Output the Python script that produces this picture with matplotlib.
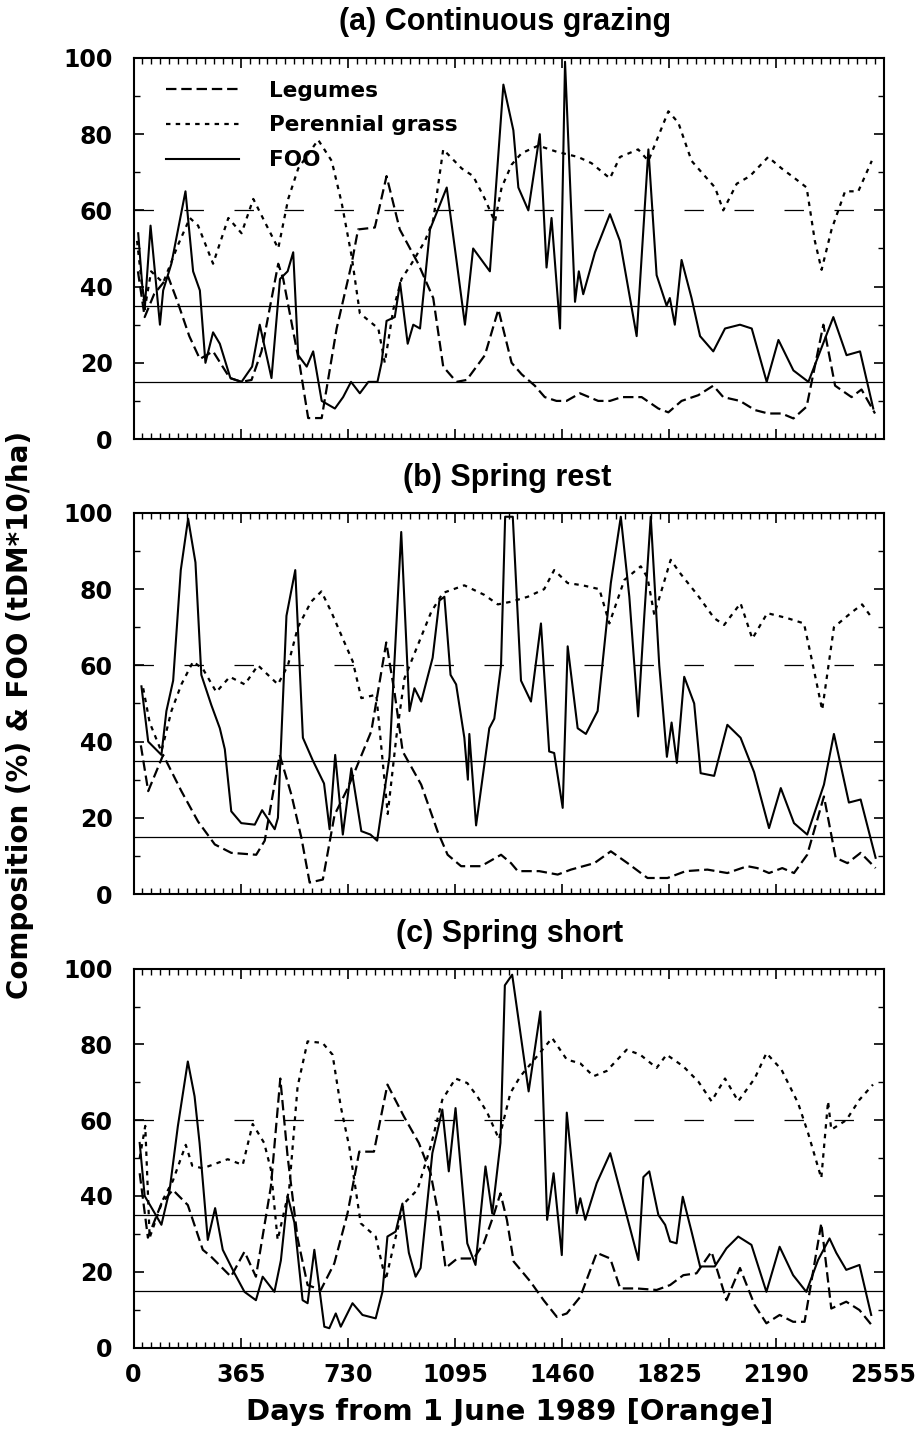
import numpy as np
import matplotlib
matplotlib.use('Agg')
from matplotlib import pyplot as plt
from matplotlib.ticker import MultipleLocator

plt.rcParams['font.family'] = ['DejaVu Sans']
plt.rcParams['font.weight'] = 'bold'
plt.rcParams['lines.scale_dashes'] = False

# ---- (a) Continuous grazing ----
a_foo_day = [16, 30, 39, 58, 90, 101, 129, 177, 203, 226, 245, 271, 294, 330, 368, 404, 430, 470, 499, 525,
             544, 561, 590, 612, 641, 686, 714, 741, 771, 800, 831, 845, 862, 890, 908, 934, 953, 976, 1010, 1067,
             1100, 1129, 1157, 1214, 1260, 1294, 1311, 1345, 1384, 1407, 1424, 1453, 1470, 1504, 1517, 1532, 1572,
             1623, 1657, 1714, 1754, 1782, 1816, 1827, 1844, 1867, 1901, 1930, 1975, 2015, 2066, 2106, 2157, 2197,
             2248, 2299, 2384, 2429, 2475, 2520]
a_foo = [54, 40, 35, 56, 30, 39, 46, 65, 44, 39, 20, 28, 25, 16, 15, 19, 30, 16, 42, 44,
         49, 22, 19, 23, 10, 8, 11, 15, 12, 15, 15, 20, 31, 32, 41, 25, 30, 29, 55, 66,
         47, 30, 50, 44, 93, 81, 66, 60, 80, 45, 58, 29, 99, 36, 44, 38, 49,
         59, 52, 27, 76, 43, 35, 37, 30, 47, 37, 27, 23, 29, 30, 29, 15, 26,
         18, 15, 32, 22, 23, 8]
a_leg_day = [15, 38, 70, 118, 150, 190, 226, 271, 328, 368, 402, 436, 493, 510, 567, 595, 641, 692, 743, 765,
             822, 862, 907, 970, 1021, 1055, 1100, 1135, 1197, 1243, 1288, 1322, 1367, 1401, 1441, 1475, 1521,
             1583, 1623, 1663, 1731, 1788, 1822, 1867, 1924, 1975, 2009, 2066, 2117, 2162, 2208, 2248, 2293,
             2350, 2390, 2446, 2480, 2526]
a_leg = [44, 32, 38, 42.6, 36, 27, 21, 23, 16, 15, 15.5, 23, 46, 42, 19, 5.5, 5.5, 29, 46, 55,
         55.5, 69, 55, 46, 37, 19, 15, 15.5, 22, 34, 20, 17, 14, 11, 10, 10, 12,
         10, 10, 11, 11, 8, 7, 10, 11.5, 14, 11, 10, 7.6, 6.7, 6.7, 5.4, 8.5,
         30, 14, 11, 13, 6.7]
a_gr_day = [12, 38, 60, 101, 152, 192, 220, 271, 323, 368, 408, 447, 493, 527, 561, 629, 675, 709, 743, 771,
            834, 856, 885, 913, 947, 993, 1021, 1055, 1118, 1157, 1197, 1231, 1254, 1288, 1322, 1379, 1441,
            1515, 1560, 1623, 1657, 1719, 1754, 1822, 1856, 1901, 1935, 1981, 2009, 2055, 2100, 2162, 2208,
            2253, 2293, 2321, 2344, 2378, 2424, 2469, 2515]
a_gr = [52, 34, 44, 41, 51, 58, 56, 46, 58, 54, 63, 57, 50, 63, 71, 78.5, 73, 62, 48, 33,
        29, 20, 34, 42, 46, 52, 57.5, 76, 71, 69, 63, 57, 66, 72, 75, 77, 75.4,
        74, 72.4, 68.4, 74, 76, 73, 86, 83, 73, 70, 66, 60, 67, 69, 74, 71,
        68.4, 66, 52, 44.4, 55, 65, 65, 73]

# ---- (b) Spring rest ----
b_foo_day = [27, 50, 95, 112, 135, 161, 186, 211, 231, 265, 294, 311, 333, 367, 413, 438, 481, 492, 521, 551,
             577, 611, 649, 668, 687, 713, 742, 776, 807, 830, 872, 912, 940, 957, 980, 1019, 1042, 1059, 1080,
             1099, 1127, 1139, 1144, 1167, 1212, 1229, 1252, 1266, 1292, 1320, 1354, 1388, 1416, 1433, 1462,
             1479, 1513, 1541, 1581, 1626, 1660, 1689, 1719, 1740, 1762, 1791, 1817, 1833, 1851, 1876, 1910,
             1932, 1978, 2023, 2068, 2114, 2165, 2205, 2250, 2295, 2352, 2386, 2437, 2477, 2528]
b_foo = [54.5, 40, 36.5, 48, 56, 85, 98.5, 87, 57.5, 49.6, 43.5, 38, 21.7, 18.6, 18.2, 22, 17, 20, 73, 85,
         41, 35, 29, 17, 36.5, 15.6, 33, 16.5, 15.6, 14, 36, 95, 48, 54, 50.5, 62, 77, 78, 57.5,
         55, 41, 30, 42, 18, 43.5, 46, 60, 99, 99, 56, 50.5, 71, 37.4, 37, 22.6,
         65, 43.5, 42, 48, 81.6, 99, 78, 46.6, 73, 99, 60, 36, 45, 34.4, 57, 50,
         31.7, 31, 44.4, 41, 32, 17.3, 27.8, 18.6, 15.6, 28.7, 42, 24, 24.8, 9.5]
b_leg_day = [25, 50, 101, 163, 220, 277, 333, 418, 447, 498, 538, 572, 600, 645, 685, 725, 753, 810, 861, 889,
             917, 980, 1036, 1070, 1116, 1184, 1252, 1286, 1309, 1382, 1445, 1490, 1570, 1626, 1683, 1751,
             1819, 1881, 1955, 2023, 2091, 2125, 2165, 2210, 2250, 2295, 2352, 2392, 2432, 2477, 2528]
b_leg = [39, 27, 36.5, 27, 19, 13, 10.8, 10.3, 14, 36.5, 26, 14.7, 3, 3.8, 20.8, 27, 32, 42.7, 66, 53,
         37.4, 28.7, 16.4, 10.3, 7.3, 7.3, 10.3, 8.1, 6, 6, 5.1, 6.4, 8.1, 11.2, 8.1, 4.2,
         4.2, 6, 6.4, 5.5, 7.3, 6.8, 5.5, 6.8, 5.5, 10.3, 25.6, 9.5, 8.1, 10.8, 6.8]
b_gr_day = [33, 55, 95, 129, 163, 203, 237, 282, 328, 379, 424, 492, 526, 560, 605, 640, 674, 713, 747, 776,
            827, 866, 895, 923, 969, 1014, 1054, 1127, 1195, 1241, 1286, 1343, 1399, 1433, 1479, 1530, 1587,
            1621, 1672, 1728, 1751, 1774, 1830, 1864, 1921, 1978, 2012, 2068, 2108, 2159, 2227, 2284, 2312,
            2346, 2386, 2443, 2482, 2516]
b_gr = [54, 45, 37.4, 48, 55, 61, 59, 53, 57, 55, 60, 55, 60, 70, 76.7, 79.4, 74, 67, 61, 51.4,
        52.3, 21, 41, 56.6, 65.4, 74, 79, 81, 78.5, 76, 76.7, 78, 80, 85, 81.6, 81, 80,
        71, 82.4, 86, 83, 73.3, 87.7, 84, 78.5, 72.4, 70.6, 76.3, 67, 73.7, 72.4, 71, 61,
        48.3, 70, 73.7, 76, 72.4]

# ---- (c) Spring short ----
c_foo_day = [21, 38, 66, 95, 123, 151, 185, 208, 225, 253, 278, 304, 344, 378, 417, 440, 480, 502, 525, 548,
             576, 593, 616, 650, 667, 689, 706, 746, 780, 825, 848, 865, 893, 916, 938, 961, 978, 1018, 1052,
             1074, 1097, 1137, 1165, 1199, 1222, 1250, 1265, 1290, 1346, 1386, 1409, 1431, 1459, 1476, 1510,
             1522, 1539, 1578, 1624, 1720, 1737, 1757, 1788, 1811, 1828, 1850, 1871, 1901, 1930, 1980, 2020,
             2060, 2105, 2156, 2201, 2247, 2292, 2332, 2371, 2394, 2428, 2473, 2513]
c_foo = [54, 40, 36.3, 32.4, 41.6, 58.4, 75.5, 66.3, 54, 28.4, 36.8, 25.8, 19.6, 14.7, 12.5, 18.7, 14.7, 23, 40, 33,
         12.5, 11.7, 25.8, 5.5, 5.1, 9, 5.5, 11.7, 8.6, 7.7, 14.7, 29.3, 30.6, 38, 25, 18.7, 21, 51.3, 62.8,
         46.5, 63.2, 27.5, 21.8, 47.8, 35.4, 54, 95.6, 98.4, 67.6, 88.7, 33.7, 46, 24.4, 62, 35.4,
         39.4, 33.7, 43.4, 51.3, 23.1, 45, 46.5, 35, 32.4, 28, 27.5, 39.8, 30.6, 21.4, 21.4, 26.2,
         29.3, 27.1, 14.7, 26.6, 19.1, 14.7, 23.1, 28.8, 25, 20.5, 21.8, 8.6]
c_leg_day = [21, 49, 95, 134, 185, 236, 264, 332, 378, 417, 468, 500, 525, 559, 593, 638, 684, 729, 769, 819,
             865, 921, 972, 1012, 1040, 1063, 1103, 1159, 1193, 1227, 1250, 1272, 1295, 1352, 1397, 1442, 1476,
             1522, 1578, 1624, 1658, 1714, 1782, 1828, 1873, 1918, 1969, 2020, 2066, 2116, 2156, 2201, 2247,
             2286, 2343, 2377, 2428, 2473, 2519]
c_leg = [46, 29, 38, 41.6, 37.6, 25.8, 24, 18.7, 25.3, 18.7, 42.5, 71, 50.4, 28.8, 16.5, 15.2, 22.2, 35.4, 51.7, 51.7,
         69.4, 61, 54, 46, 34.6, 21, 23.5, 23.5, 27.5, 35, 40.7, 33.7, 22.7, 17.4, 12.5, 8.1, 9,
         13.4, 25, 23.5, 15.6, 15.6, 15.2, 16.5, 19.1, 19.6, 25.3, 12.5, 21, 11.2, 6.4, 8.6, 6.8,
         6.8, 32.8, 10.3, 12.1, 9.9, 5.5]
c_gr_day = [21, 40, 55, 100, 134, 178, 200, 236, 321, 372, 406, 445, 468, 491, 530, 559, 593, 644, 678, 706,
            735, 774, 825, 859, 888, 921, 967, 1012, 1052, 1097, 1137, 1171, 1205, 1245, 1284, 1318, 1375,
            1426, 1476, 1522, 1567, 1612, 1680, 1726, 1782, 1816, 1873, 1924, 1969, 2015, 2060, 2116, 2156,
            2207, 2264, 2298, 2343, 2366, 2377, 2428, 2473, 2519]
c_gr = [50, 58.5, 29, 39, 44, 53.5, 48, 47.3, 49.7, 48.2, 59, 54, 47, 28.4, 41.6, 68.9, 80.8, 80.4, 77.3, 63.6,
        53, 32.8, 29.3, 17.8, 27.5, 38, 41.6, 53, 65.4, 71, 69.8, 66.3, 62, 55, 67.2, 71.6, 76.9,
        81.7, 76, 75, 71.6, 73, 78.6, 77.3, 73.8, 77.3, 74.2, 70.2, 65, 71, 65, 71, 77.7,
        73.4, 64.5, 56.6, 44.7, 65, 57.5, 60, 65.4, 69.4]

x_ticks = list(range(0, 2556, 365))
titles = ['(a) Continuous grazing', '(b) Spring rest', '(c) Spring short']

fig = plt.figure(figsize=(9.24, 14.38), dpi=100)


def panel(rect, foo_d, foo, leg_d, leg, gr_d, gr, show_x):
    ax = fig.add_axes(rect)
    ax.axhline(60, color='black', lw=0.9, dashes=(14, 22))
    ax.axhline(35, color='black', lw=0.9)
    ax.axhline(15, color='black', lw=0.9)
    ax.plot(leg_d, leg, color='black', lw=1.6, dashes=(7.5, 3.5), label='Legumes')
    ax.plot(gr_d, gr, color='black', lw=1.6, dashes=(3.2, 3.8), label='Perennial grass')
    ax.plot(foo_d, foo, color='black', lw=1.5, label='FOO')
    ax.set_xlim(0, 2555)
    ax.set_ylim(0, 100)
    ax.set_xticks(x_ticks)
    ax.xaxis.set_minor_locator(MultipleLocator(365 / 12))
    ax.set_yticks(range(0, 101, 20))
    ax.yaxis.set_minor_locator(MultipleLocator(10))
    ax.tick_params(which='both', direction='in', top=True, right=True)
    ax.tick_params(which='major', length=7, width=1.2, labelsize=17)
    ax.tick_params(which='minor', length=4, width=1.0)
    ax.tick_params(axis='y', pad=15)
    ax.tick_params(axis='x', pad=11, labelbottom=show_x)
    for s in ax.spines.values():
        s.set_linewidth(1.5)
    return ax


ax1 = panel([0.1445, 0.6947, 0.8117, 0.2650], a_foo_day, a_foo, a_leg_day, a_leg, a_gr_day, a_gr, False)
ax2 = panel([0.1445, 0.3783, 0.8117, 0.2650], b_foo_day, b_foo, b_leg_day, b_leg, b_gr_day, b_gr, False)
ax3 = panel([0.1445, 0.0629, 0.8117, 0.2635], c_foo_day, c_foo, c_leg_day, c_leg, c_gr_day, c_gr, True)

ax1.legend(loc='upper left', bbox_to_anchor=(0.043, 0.94), frameon=False, fontsize=15.5,
           handlelength=3.4, handletextpad=1.4, labelspacing=0.68, borderpad=0, borderaxespad=0)

title_font = dict(family=['Liberation Sans'], weight='bold', size=22, ha='center', va='center')
fig.text(0.547, 0.9847, titles[0], **title_font)
fig.text(0.549, 0.6676, titles[1], **title_font)
fig.text(0.551, 0.3505, titles[2], **title_font)

fig.text(0.0216, 0.503, 'Composition (%) & FOO (tDM*10/ha)', rotation=90, ha='center', va='center', size=20)
fig.text(0.552, 0.018, 'Days from 1 June 1989 [Orange]', ha='center', va='center', size=21)

fig.savefig('out.png', dpi=100)
